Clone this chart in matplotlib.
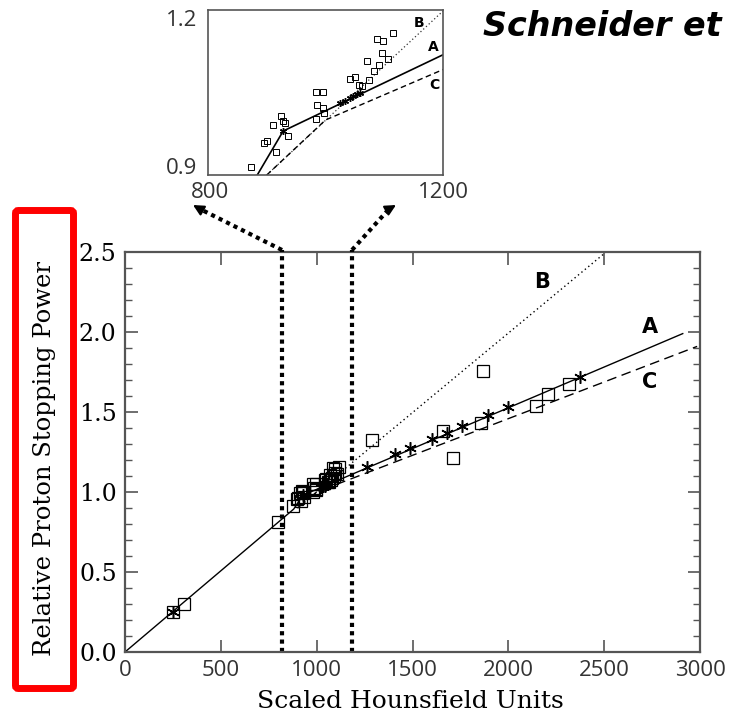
import matplotlib
matplotlib.use("Agg")
import matplotlib.pyplot as plt
from matplotlib.lines import Line2D
from matplotlib.patches import FancyBboxPatch

# measured points: square symbols (HU, relative stopping power)
sq_hu = [250, 308, 798, 874, 895, 901, 916, 911, 925, 928, 931, 936,
         983, 995, 986, 996, 997, 983, 1041, 1051, 1057, 1062, 1070, 1074,
         1082, 1087, 1098, 1096, 1091, 1106, 1115,
         1287, 1661, 1713, 1857, 1869, 2144, 2205, 2318]
sq_sp = [0.25, 0.30, 0.81, 0.915, 0.959, 0.961, 0.941, 0.991, 1.008, 0.999, 0.995, 0.971,
         1.050, 1.051, 1.027, 1.021, 1.012, 1.002, 1.074, 1.079, 1.064, 1.062, 1.108, 1.073,
         1.089, 1.147, 1.144, 1.121, 1.100, 1.110, 1.159,
         1.325, 1.383, 1.21, 1.433, 1.756, 1.54, 1.6125, 1.675]

# asterisk symbols
st_hu = [250, 928, 1024, 1033, 1041, 1046, 1054, 1058, 1261, 1409, 1487, 1600, 1678, 1757, 1896, 2000, 2374]
st_sp = [0.25, 0.98, 1.03, 1.035, 1.04, 1.043, 1.047, 1.049, 1.155, 1.235, 1.273, 1.33, 1.37, 1.41, 1.48, 1.53, 1.72]

# calibration curves
a_hu = [0, 880, 928, 2910]
a_sp = [0, 0.893, 0.98, 1.99]
b_hu = [900, 2510]
b_sp = [0.9, 2.5]
c_hu = [900, 1000, 2985]
c_sp = [0.9, 1.0, 1.91]

zoom_hu = [818, 1183]

W, H = 729, 717


def fpx(x, y):
    # pixel position (from top-left) -> figure fraction
    return (x / W, 1 - y / H)


fig = plt.figure(figsize=(W / 100, H / 100), dpi=100)

serif = ["DejaVu Serif"]
sans = ["Open Sans", "DejaVu Sans"]
spine_col = "#555555"

# ---------------- main axes ----------------
ax = fig.add_axes([125 / W, 1 - 652 / H, 575 / W, 400 / H])
ax.plot(a_hu, a_sp, "-", color="k", lw=1.0)
ax.plot(b_hu, b_sp, color="k", lw=1.0, ls=(0, (1, 2.2)))
ax.plot(c_hu, c_sp, color="k", lw=1.0, ls=(0, (7, 4)))
ax.plot(sq_hu, sq_sp, "s", mfc="none", mec="k", ms=8.5, mew=0.9, ls="none")
ax.plot(st_hu, st_sp, marker=(6, 2, 0), color="k", ms=9, mew=1.1, ls="none")

for x in zoom_hu:
    ax.plot([x, x], [0, 2.5], color="k", lw=3.0, ls=(0, (1, 1)), clip_on=False)

ax.set_xlim(0, 3000)
ax.set_ylim(0, 2.5)
ax.set_xticks([0, 500, 1000, 1500, 2000, 2500, 3000])
ax.set_yticks([0, 0.5, 1.0, 1.5, 2.0, 2.5])
ax.set_yticks([i / 10 for i in range(26)], minor=True)
ax.set_yticklabels(["0.0", "0.5", "1.0", "1.5", "2.0", "2.5"], family=serif, fontsize=17)
ax.set_xticklabels(["0", "500", "1000", "1500", "2000", "2500", "3000"],
                   family=sans, fontsize=16, color="#333333")
ax.tick_params(which="major", direction="in", length=9, width=1.2, color=spine_col,
               top=True, right=True, pad=6)
ax.tick_params(which="minor", direction="in", length=5, width=1.0, color=spine_col,
               top=False, right=True, bottom=False)
for s in ax.spines.values():
    s.set_color(spine_col)
    s.set_linewidth(1.6)

lab = dict(fontsize=15, fontweight="bold", ha="center", va="center", family=["DejaVu Sans"])
ax.text(2175, 2.31, "B", **lab)
ax.text(2739, 2.03, "A", **lab)
ax.text(2739, 1.69, "C", **lab)

fig.text(*fpx(410, 701), "Scaled Hounsfield Units", family=serif, fontsize=18,
         ha="center", va="center")
fig.text(*fpx(45, 458), "Relative Proton Stopping Power", family=serif, fontsize=17.5,
         ha="center", va="center", rotation=90)

# red highlight box round the y label
fig.add_artist(FancyBboxPatch(fpx(15.5, 688.5), 58 / W, 478 / H,
                              boxstyle="round,pad=0,rounding_size=0.004",
                              transform=fig.transFigure, fill=False,
                              edgecolor="#ff0000", lw=5))

# dotted arrows from zoom lines up to the inset
arrows = [((282, 250), (200, 209), (193, 205)), ((352, 250), (389, 209), (396, 205))]
for tail, mid, head in arrows:
    fig.add_artist(Line2D([tail[0] / W, mid[0] / W], [1 - tail[1] / H, 1 - mid[1] / H],
                          transform=fig.transFigure, color="k", lw=3.0, ls=(0, (1, 1))))
    fig.add_artist(Line2D([tail[0] / W, tail[0] / W], [1 - tail[1] / H, 1 - 252 / H],
                          transform=fig.transFigure, color="k", lw=3.0, ls=(0, (1, 1))))
    ax.annotate("", xy=fpx(*head), xytext=fpx(*mid), xycoords="figure fraction",
                textcoords="figure fraction",
                arrowprops=dict(arrowstyle="-|>", color="k", lw=1.5, mutation_scale=16,
                                shrinkA=0, shrinkB=0))

# ---------------- inset ----------------
ins = fig.add_axes([208 / W, 1 - 175 / H, 235 / W, 165 / H])
ins.plot(a_hu, a_sp, "-", color="k", lw=1.2)
ins.plot(b_hu, b_sp, color="#333333", lw=0.9, ls=(0, (1, 2)))
ins.plot(c_hu, c_sp, color="k", lw=1.0, ls=(0, (4, 2.5)))
ins.plot(sq_hu, sq_sp, "s", mfc="none", mec="k", ms=4.5, mew=0.7, ls="none")
ins.plot(st_hu, st_sp, marker=(6, 2, 0), color="k", ms=5, mew=1.0, ls="none")
ins.set_xlim(800, 1200)
ins.set_ylim(0.9, 1.2)
ins.set_xticks([])
ins.set_yticks([])
for s in ins.spines.values():
    s.set_color(spine_col)
    s.set_linewidth(1.2)
ilab = dict(fontsize=10, fontweight="bold", ha="center", va="center")
ins.text(1160, 1.177, "B", **ilab)
ins.text(1183, 1.133, "A", **ilab)
ins.text(1186, 1.064, "C", **ilab)

fig.text(*fpx(197, 20), "1.2", family=sans, fontsize=16, color="#333333", ha="right", va="center")
fig.text(*fpx(197, 169), "0.9", family=sans, fontsize=16, color="#333333", ha="right", va="center")
fig.text(*fpx(210, 193), "800", family=sans, fontsize=16, color="#333333", ha="center", va="center")
fig.text(*fpx(443, 193), "1200", family=sans, fontsize=16, color="#333333", ha="center", va="center")

fig.text(*fpx(722, 27), "Schneider et", family=["DejaVu Sans"], fontsize=24,
         fontweight="bold", fontstyle="oblique", ha="right", va="center")

fig.savefig("out.png", dpi=100)
